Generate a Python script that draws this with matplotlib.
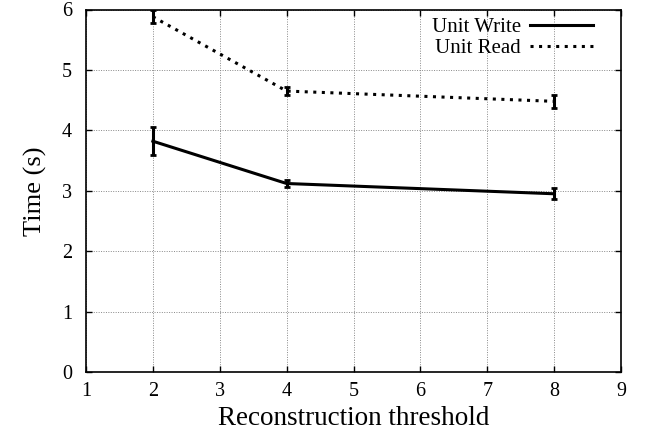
import matplotlib
matplotlib.use("Agg")
import matplotlib.pyplot as plt
from matplotlib.lines import Line2D

thresholds = [2, 4, 8]
write_mean = [3.82, 3.12, 2.95]
write_err = [0.23, 0.05, 0.09]
read_mean = [5.88, 4.65, 4.48]
read_err = [0.11, 0.07, 0.11]

plt.rcParams['font.family'] = ['Liberation Serif']
fig = plt.figure(figsize=(6.45, 4.43), dpi=100)
ax = fig.add_axes([86/645, 1-372/443, (621-86)/645, (372-9.5)/443])

dot = (0, (1, 1.8))
ax.errorbar(thresholds, write_mean, yerr=write_err, color='black', lw=2.2,
            capsize=2, capthick=2, elinewidth=2.2)
ax.errorbar(thresholds, read_mean, yerr=read_err, color='black', lw=2.2,
            ls=dot, capsize=2, capthick=2, elinewidth=2.2)

ax.set_xlim(1, 9)
ax.set_ylim(0, 6)
ax.set_xticks(range(1, 10))
ax.set_yticks(range(0, 7))
ax.grid(True, color='#888888', ls=(0, (1, 1.5)), lw=0.7)
ax.tick_params(direction='in', top=True, right=True, labelsize=14.5, length=4, width=1)
ax.tick_params(axis='x', pad=7)
ax.tick_params(axis='y', pad=10)
for s in ax.spines.values():
    s.set_linewidth(1.2)
ax.set_xlabel('Reconstruction threshold', fontsize=19.5, labelpad=4)
ax.set_ylabel('Time (s)', fontsize=19, labelpad=11)
handles = [Line2D([], [], color='black', lw=2.2),
           Line2D([], [], color='black', lw=2.2, ls=dot)]
leg = ax.legend(handles, ['Unit Write', 'Unit Read'], loc='upper right',
                frameon=False, markerfirst=False, fontsize=15,
                handlelength=3.0, borderaxespad=0.0, labelspacing=0.05,
                handletextpad=0.45, bbox_to_anchor=(0.963, 1.0))
for t in leg.get_texts():
    t.set_ha('right')
fig.savefig('out.png', dpi=100)
